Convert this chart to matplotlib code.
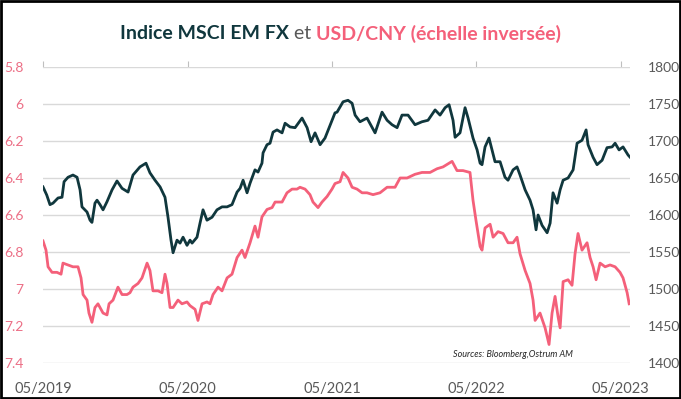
import matplotlib
matplotlib.use("Agg")
import matplotlib.pyplot as plt
from matplotlib.patches import Rectangle
import numpy as np
import pandas as pd

# values; time is in months since 05/2019
msci_months = [0, 0.31, 0.58, 0.83, 1.25, 1.58, 1.75, 2.08, 2.49, 2.83, 3.08, 3.24, 3.66, 3.91,
               4.07, 4.32, 4.49, 4.74, 4.99, 5.32, 5.74, 6.15, 6.57, 7.07, 7.48, 8.06, 8.56,
               8.89, 9.31, 9.73, 10.14, 10.39, 10.64, 10.81, 11.14, 11.39, 11.64, 11.97, 12.22,
               12.39, 12.8, 13.05, 13.3, 13.63, 14.05, 14.46, 14.88, 15.3, 15.71, 16.13, 16.38,
               16.63, 16.96, 17.21, 17.62, 17.87, 18.2, 18.29, 18.62, 18.87, 19.12, 19.45, 19.87,
               20.12, 20.53, 20.95, 21.53, 21.95, 22.28, 22.61, 23.03, 23.44, 24.02, 24.27,
               24.44, 24.94, 25.35, 25.69, 25.94, 26.35, 26.93, 27.6, 28.18, 28.6, 29.01, 29.43,
               29.84, 30.34, 30.92, 31.5, 32.0, 32.59, 33.0, 33.42, 33.75, 34.08, 34.25, 34.66,
               35.08, 35.33, 35.74, 36.08, 36.33, 36.49, 36.74, 37.07, 37.32, 37.57, 37.99,
               38.4, 38.65, 39.07, 39.4, 39.65, 40.07, 40.48, 40.73, 40.98, 41.15, 41.48, 41.9,
               42.15, 42.39, 42.73, 42.98, 43.23, 43.64, 44.06, 44.39, 44.8, 45.14, 45.3, 45.72,
               46.05, 46.47, 46.88, 47.3, 47.55, 47.88, 48.21, 48.63, 48.8]
msci_values = [1638, 1627, 1614, 1616, 1623, 1624, 1645, 1651, 1654, 1651, 1634, 1611, 1604, 1593,
               1590, 1616, 1620, 1614, 1607, 1618, 1634, 1646, 1636, 1631, 1654, 1665, 1670,
               1657, 1647, 1638, 1624, 1597, 1566, 1549, 1566, 1562, 1570, 1559, 1566,
               1562, 1570, 1589, 1607, 1593, 1597, 1607, 1611, 1611, 1614, 1631, 1636,
               1647, 1630, 1643, 1661, 1658, 1670, 1684, 1695, 1697, 1712, 1715, 1711,
               1724, 1719, 1718, 1731, 1718, 1699, 1711, 1695, 1704, 1728, 1738,
               1739, 1753, 1755, 1751, 1735, 1726, 1731, 1711, 1739, 1728, 1722, 1718,
               1735, 1735, 1722, 1726, 1728, 1742, 1735, 1745, 1749, 1728, 1705, 1711,
               1745, 1731, 1704, 1688, 1670, 1668, 1692, 1704, 1688, 1672, 1672,
               1651, 1647, 1661, 1665, 1654, 1634, 1620, 1607, 1580, 1600, 1586, 1576,
               1589, 1630, 1616, 1634, 1647, 1650, 1661, 1697, 1701, 1715, 1695, 1678,
               1668, 1674, 1691, 1692, 1697, 1688, 1692, 1681, 1678]

cny_months = [0, 0.25, 0.42, 0.75, 1.16, 1.5, 1.66, 2.08, 2.49, 2.91, 3.16, 3.33, 3.66, 3.82,
              4.07, 4.32, 4.57, 4.99, 5.32, 5.49, 5.82, 6.23, 6.57, 6.98, 7.23, 7.48, 7.9, 8.23,
              8.65, 8.89, 9.14, 9.56, 9.89, 10.14, 10.31, 10.56, 10.81, 11.22, 11.55, 11.97,
              12.22, 12.64, 12.88, 13.22, 13.63, 13.88, 14.13, 14.55, 14.88, 15.3, 15.71, 16.13,
              16.54, 16.79, 17.21, 17.62, 17.87, 18.2, 18.62, 19.04, 19.29, 19.87, 20.28, 20.7,
              21.11, 21.36, 21.78, 22.19, 22.44, 22.86, 23.19, 23.61, 24.02, 24.27, 24.69,
              24.94, 25.35, 25.69, 26.1, 26.52, 26.93, 27.43, 28.01, 28.6, 29.26, 29.68, 30.26,
              30.92, 31.5, 32.17, 32.75, 33.25, 34.0, 34.41, 34.91, 35.49, 35.74, 35.99, 36.33,
              36.49, 36.74, 37.16, 37.41, 37.82, 38.24, 38.65, 39.07, 39.4, 39.65, 40.07, 40.48,
              40.73, 40.9, 41.31, 41.73, 42.06, 42.31, 42.56, 42.81, 42.98, 43.23, 43.64, 43.97,
              44.22, 44.47, 44.8, 45.22, 45.47, 45.72, 45.97, 46.3, 46.72, 47.13, 47.55, 47.96,
              48.21, 48.55, 48.72]
cny_values = [6.74, 6.79, 6.88, 6.91, 6.91, 6.92, 6.86, 6.87, 6.88, 6.88, 6.94, 7.03, 7.06, 7.13,
              7.18, 7.10, 7.08, 7.13, 7.14, 7.08, 7.06, 6.99, 7.03, 7.03, 7.02, 6.99, 6.97, 6.94,
              6.86, 6.90, 7.01, 7.01, 7.02, 6.92, 6.97, 7.10, 7.10, 7.06, 7.08, 7.07,
              7.09, 7.11, 7.17, 7.08, 7.07, 7.08, 7.03, 6.99, 7.01, 6.94, 6.92, 6.83,
              6.79, 6.83, 6.75, 6.66, 6.72, 6.61, 6.57, 6.56, 6.53, 6.53, 6.48, 6.46,
              6.46, 6.45, 6.46, 6.49, 6.53, 6.56, 6.53, 6.50, 6.46, 6.43, 6.42,
              6.37, 6.40, 6.45, 6.46, 6.48, 6.48, 6.49, 6.48, 6.45, 6.45, 6.40, 6.40,
              6.38, 6.37, 6.37, 6.35, 6.34, 6.31, 6.36, 6.36, 6.37, 6.52, 6.63, 6.77,
              6.79, 6.67, 6.65, 6.72, 6.69, 6.70, 6.75, 6.75, 6.72, 6.81, 6.90, 6.97,
              7.06, 7.17, 7.13, 7.21, 7.30, 7.13, 7.04, 7.15, 7.21, 6.96, 6.95, 6.98,
              6.81, 6.70, 6.79, 6.75, 6.83, 6.88, 6.95, 6.86, 6.88, 6.87, 6.88, 6.91,
              6.94, 7.02, 7.08]

left_ticks = [5.8, 6, 6.2, 6.4, 6.6, 6.8, 7, 7.2, 7.4]
right_ticks = [1400, 1450, 1500, 1550, 1600, 1650, 1700, 1750, 1800]
x_tick_labels = ["05/2019", "05/2020", "05/2021", "05/2022", "05/2023"]

teal = "#10373d"
pink = "#f4607a"
pink_lbl = "#ec6f86"
grey = "#595959"

plt.rcParams['font.family'] = ['Lato', 'DejaVu Sans']

start = pd.Timestamp("2019-05-01")
def to_dates(months):
    return start + pd.to_timedelta(np.array(months) * 30.4375, unit="D")

fig = plt.figure(figsize=(6.81, 3.99), dpi=100)
ax = fig.add_axes([43/681, 1 - 363/399, 587/681, 296/399])
ax2 = ax.twinx()

ax.plot(to_dates(cny_months), cny_values, color=pink, lw=2)
ax2.plot(to_dates(msci_months), msci_values, color=teal, lw=2)

ax.set_ylim(7.4, 5.8)
ax.set_yticks(left_ticks)
ax.set_yticklabels([f"{v:g}" for v in left_ticks])
ax2.set_ylim(1400, 1800)
ax2.set_yticks(right_ticks)

xt = [pd.Timestamp(f"{y}-05-01") for y in range(2019, 2024)]
ax.set_xlim(start, pd.Timestamp("2023-05-25"))
ax.set_xticks(xt)
ax.set_xticklabels(x_tick_labels)

ax.grid(axis="y", color="#d9d9d9", lw=1)
ax.set_axisbelow(True)
for a in (ax, ax2):
    for s in a.spines.values():
        s.set_visible(False)

ax.tick_params(axis="y", length=0, pad=14, labelsize=10, labelcolor=pink_lbl)
ax2.tick_params(axis="y", length=0, pad=13, labelsize=10, labelcolor=grey)
ax.tick_params(axis="x", bottom=False, top=True, labelbottom=True, length=4,
               color="#bfbfbf", labelsize=10.5, labelcolor=grey, pad=10)

ax.text(0.80, 0.012, "Sources: Bloomberg,Ostrum AM", transform=ax.transAxes,
        ha="center", va="bottom", fontsize=6.5, style="italic", color="#262626")

# title in three colours
parts = [("Indice MSCI EM FX", teal, "bold"), (" et ", grey, "normal"),
         ("USD/CNY (échelle inversée)", pink, "bold")]
texts = [fig.text(0, 0.915, p, color=c, fontweight=w, fontsize=14, va="center")
         for p, c, w in parts]
fig.canvas.draw()
r = fig.canvas.get_renderer()
widths = [t.get_window_extent(r).width for t in texts]
x = (fig.bbox.width - sum(widths)) / 2
for t, w in zip(texts, widths):
    t.set_x(x / fig.bbox.width)
    x += w

fig.patches.append(Rectangle((0.001, 0.002), 0.997, 0.996, transform=fig.transFigure,
                             fill=False, edgecolor="black", lw=2))

fig.savefig("out.png", dpi=100)
